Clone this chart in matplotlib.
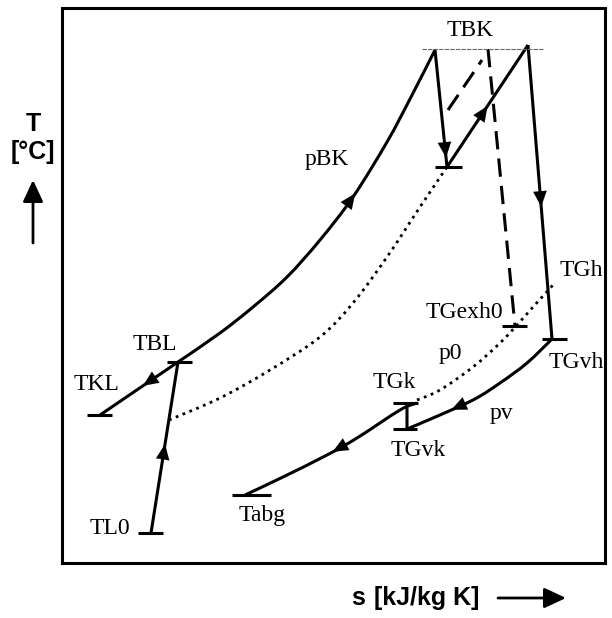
import numpy as np
import matplotlib.pyplot as plt
from matplotlib.path import Path
from matplotlib.patches import PathPatch

# T-s diagram sketch (schematic, arbitrary units)

# compression line TL0 -> TBL
comp_s = [89, 116]
comp_T = [30, 201]

# isobar pBK from TBL up to TBK
pbk_s = [116, 158, 191, 225, 258, 291, 325, 348, 373]
pbk_T = [201, 230, 256, 286, 323, 366, 421, 464, 513]

# TBL -> TKL
tkl_s = [116, 38]
tkl_T = [201, 148]

# first expansion TBK -> reheat start
exp1_s = [373, 385]
exp1_T = [513, 396]

# reheat back up to TBK
reh_s = [385, 466]
reh_T = [396, 518]

# second expansion TBK -> TGvh
exp2_s = [466, 490]
exp2_T = [518, 224]

# dotted isobar from compression line up to reheat start
dot1_s = [107, 158, 208, 258, 291, 325, 358, 385]
dot1_T = [143, 165, 193, 226, 260, 306, 356, 396]

# p0 dotted isobar
p0_s = [355, 378, 411, 438, 455, 471, 491]
p0_T = [163, 173, 196, 220, 238, 256, 278]

# pv isobar TGvh -> TGvk
pv_s = [490, 465, 438, 411, 371, 345]
pv_T = [224, 200, 180, 163, 145, 134]

# TGk -> TGvk
gk_s = [345, 345]
gk_T = [160, 134]

# exhaust line TGk -> Tabg
abg_s = [355, 338, 295, 265, 221, 183]
abg_T = [160, 153, 125, 108, 86, 68]

# dashed expansion without reheat
dash1_s = [386, 420]
dash1_T = [453, 503]
dash2_s = [426, 453]
dash2_T = [514, 237]

# TBK level
tbk_s = [360, 481]
tbk_T = [514, 514]

# short state markers: (T, s_left, s_right)
mark_T = [30, 201, 148, 396, 224, 237, 160, 134, 68]
mark_s0 = [76, 105, 25, 373, 480, 440, 331, 331, 170]
mark_s1 = [101, 130, 50, 400, 505, 465, 356, 355, 209]

labels = ['TBK', 'pBK', 'TBL', 'TKL', 'TL0', 'Tabg', 'TGk', 'TGvk',
          'p0', 'pv', 'TGexh0', 'TGh', 'TGvh']
label_s = [408, 265, 93, 35, 48, 200, 332, 356, 388, 439, 402, 519, 514]
label_T = [533, 403, 218, 178, 35, 48, 180, 113, 210, 150, 251, 293, 200]

fig = plt.figure(figsize=(6.12, 6.18), dpi=100)
ax = fig.add_axes([62/612, 55/618, 543/612, 555/618])
ax.set_xlim(0, 543)
ax.set_ylim(0, 555)
ax.set_xticks([])
ax.set_yticks([])
for sp in ax.spines.values():
    sp.set_linewidth(2.2)

lw = 2.2


def curve(s, T, **kw):
    # smooth curve through the read points (Catmull-Rom as cubic beziers)
    P = np.column_stack([s, T]).astype(float)
    n = len(P)
    verts = [P[0]]
    codes = [Path.MOVETO]
    for i in range(n - 1):
        a = P[i - 1] if i > 0 else P[i]
        d = P[i + 2] if i + 2 < n else P[i + 1]
        verts += [P[i] + (P[i + 1] - a) / 6, P[i + 1] - (d - P[i]) / 6, P[i + 1]]
        codes += [Path.CURVE4] * 3
    ax.add_patch(PathPatch(Path(verts, codes), fill=False, edgecolor='black',
                           capstyle='butt', **kw))


for s, T in [(comp_s, comp_T), (pbk_s, pbk_T), (tkl_s, tkl_T),
             (exp1_s, exp1_T), (reh_s, reh_T), (exp2_s, exp2_T),
             (pv_s, pv_T), (gk_s, gk_T), (abg_s, abg_T)]:
    curve(s, T, lw=lw)

curve(dot1_s, dot1_T, lw=2, linestyle=':')
curve(p0_s, p0_T, lw=2, linestyle=':')
curve(dash1_s, dash1_T, lw=lw, linestyle=(0, (6, 3)))
curve(dash2_s, dash2_T, lw=lw, linestyle=(0, (6, 3)))
ax.plot(tbk_s, tbk_T, color='0.4', lw=0.8, linestyle=(0, (4, 1)))

ax.hlines(mark_T, mark_s0, mark_s1, color='black', lw=lw)


def arrow_on(s, T, frac):
    # filled arrow head on a polyline, at a fraction of its length
    s = np.asarray(s, float)
    T = np.asarray(T, float)
    d = np.hypot(np.diff(s), np.diff(T))
    cum = np.concatenate([[0], np.cumsum(d)])
    a = np.interp((frac - 0.03) * cum[-1], cum, s), np.interp((frac - 0.03) * cum[-1], cum, T)
    b = np.interp(frac * cum[-1], cum, s), np.interp(frac * cum[-1], cum, T)
    ax.annotate('', xy=b, xytext=a,
                arrowprops=dict(arrowstyle='-|>,head_length=0.5,head_width=0.22',
                                mutation_scale=22, color='black', lw=0.1,
                                shrinkA=0, shrinkB=0))


arrow_on(comp_s, comp_T, 0.52)
arrow_on(pbk_s, pbk_T, 0.6)
arrow_on(tkl_s, tkl_T, 0.45)
arrow_on(exp1_s, exp1_T, 0.92)
arrow_on(reh_s, reh_T, 0.5)
arrow_on(exp2_s, exp2_T, 0.55)
arrow_on(pv_s, pv_T, 0.72)
arrow_on(abg_s, abg_T, 0.5)

for txt, s, T in zip(labels, label_s, label_T):
    ax.text(s, T, txt, family='Liberation Serif', fontsize=17,
            ha='center', va='center')

# axis captions
sans = dict(family='Liberation Sans', fontsize=18, weight='bold')
fig.text(33/612, 1 - 124/618, 'T', ha='center', va='center', **sans)
fig.text(33/612, 1 - 152/618, '[°C]', ha='center', va='center', **sans)
ax.annotate('', xy=(33/612, 1 - 180/618), xytext=(33/612, 1 - 243/618),
            xycoords='figure fraction',
            arrowprops=dict(arrowstyle='-|>,head_length=0.6,head_width=0.28',
                            mutation_scale=22, color='black', lw=2,
                            shrinkA=0, shrinkB=0))

fig.text(351/612, 1 - 598/618, 's', ha='left', va='center', **sans)
fig.text(374/612, 1 - 598/618, '[kJ/kg K]', ha='left', va='center', **sans)
ax.annotate('', xy=(566/612, 1 - 598/618), xytext=(498/612, 1 - 598/618),
            xycoords='figure fraction',
            arrowprops=dict(arrowstyle='-|>,head_length=0.6,head_width=0.28',
                            mutation_scale=22, color='black', lw=2,
                            shrinkA=0, shrinkB=0))

plt.savefig('out.png', dpi=100)
